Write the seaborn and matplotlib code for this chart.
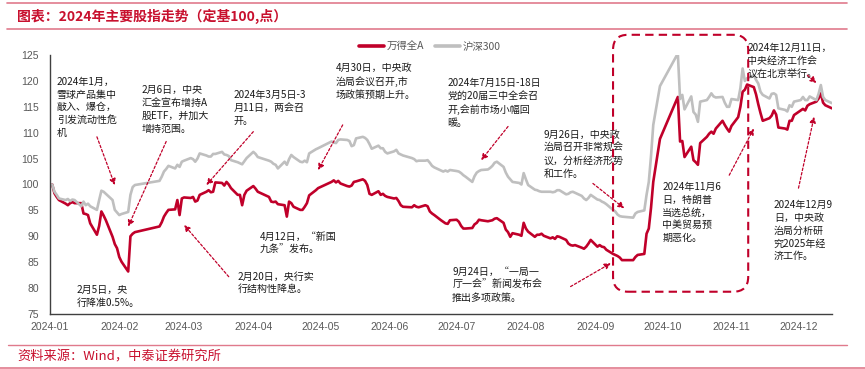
import matplotlib
matplotlib.use("Agg")
import matplotlib.pyplot as plt
import matplotlib.dates as mdates
import matplotlib.transforms as mtransforms
from matplotlib.patches import FancyBboxPatch
from matplotlib.lines import Line2D
import pandas as pd
import seaborn as sns

# ---------------- data ----------------
dates = [
    "2024-01-02", "2024-01-03", "2024-01-04", "2024-01-05", "2024-01-08", "2024-01-09", "2024-01-10",
    "2024-01-11", "2024-01-12", "2024-01-15", "2024-01-16", "2024-01-17", "2024-01-18", "2024-01-19",
    "2024-01-22", "2024-01-23", "2024-01-24", "2024-01-25", "2024-01-26", "2024-01-29", "2024-01-30",
    "2024-01-31", "2024-02-01", "2024-02-02", "2024-02-05", "2024-02-06", "2024-02-07", "2024-02-08",
    "2024-02-19", "2024-02-20", "2024-02-21", "2024-02-22", "2024-02-23", "2024-02-26", "2024-02-27",
    "2024-02-28", "2024-02-29", "2024-03-01", "2024-03-04", "2024-03-05", "2024-03-06", "2024-03-07",
    "2024-03-08", "2024-03-11", "2024-03-12", "2024-03-13", "2024-03-14", "2024-03-15", "2024-03-18",
    "2024-03-19", "2024-03-20", "2024-03-21", "2024-03-22", "2024-03-25", "2024-03-26", "2024-03-27",
    "2024-03-28", "2024-03-29", "2024-04-01", "2024-04-02", "2024-04-03", "2024-04-08", "2024-04-09",
    "2024-04-10", "2024-04-11", "2024-04-12", "2024-04-15", "2024-04-16", "2024-04-17", "2024-04-18",
    "2024-04-19", "2024-04-22", "2024-04-23", "2024-04-24", "2024-04-25", "2024-04-26", "2024-04-29",
    "2024-04-30", "2024-05-06", "2024-05-07", "2024-05-08", "2024-05-09", "2024-05-10", "2024-05-13",
    "2024-05-14", "2024-05-15", "2024-05-16", "2024-05-17", "2024-05-20", "2024-05-21", "2024-05-22",
    "2024-05-23", "2024-05-24", "2024-05-27", "2024-05-28", "2024-05-29", "2024-05-30", "2024-05-31",
    "2024-06-03", "2024-06-04", "2024-06-05", "2024-06-06", "2024-06-07", "2024-06-11", "2024-06-12",
    "2024-06-13", "2024-06-14", "2024-06-17", "2024-06-18", "2024-06-19", "2024-06-20", "2024-06-21",
    "2024-06-24", "2024-06-25", "2024-06-26", "2024-06-27", "2024-06-28", "2024-07-01", "2024-07-02",
    "2024-07-03", "2024-07-04", "2024-07-05", "2024-07-08", "2024-07-09", "2024-07-10", "2024-07-11",
    "2024-07-12", "2024-07-15", "2024-07-16", "2024-07-17", "2024-07-18", "2024-07-19", "2024-07-22",
    "2024-07-23", "2024-07-24", "2024-07-25", "2024-07-26", "2024-07-29", "2024-07-30", "2024-07-31",
    "2024-08-01", "2024-08-02", "2024-08-05", "2024-08-06", "2024-08-07", "2024-08-08", "2024-08-09",
    "2024-08-12", "2024-08-13", "2024-08-14", "2024-08-15", "2024-08-16", "2024-08-19", "2024-08-20",
    "2024-08-21", "2024-08-22", "2024-08-23", "2024-08-26", "2024-08-27", "2024-08-28", "2024-08-29",
    "2024-08-30", "2024-09-02", "2024-09-03", "2024-09-04", "2024-09-05", "2024-09-06", "2024-09-09",
    "2024-09-10", "2024-09-11", "2024-09-12", "2024-09-13", "2024-09-18", "2024-09-19", "2024-09-20",
    "2024-09-23", "2024-09-24", "2024-09-25", "2024-09-26", "2024-09-27", "2024-09-30", "2024-10-08",
    "2024-10-09", "2024-10-10", "2024-10-11", "2024-10-14", "2024-10-15", "2024-10-16", "2024-10-17",
    "2024-10-18", "2024-10-21", "2024-10-22", "2024-10-23", "2024-10-24", "2024-10-25", "2024-10-28",
    "2024-10-29", "2024-10-30", "2024-10-31", "2024-11-01", "2024-11-04", "2024-11-05", "2024-11-06",
    "2024-11-07", "2024-11-08", "2024-11-11", "2024-11-12", "2024-11-13", "2024-11-14", "2024-11-15",
    "2024-11-18", "2024-11-19", "2024-11-20", "2024-11-21", "2024-11-22", "2024-11-25", "2024-11-26",
    "2024-11-27", "2024-11-28", "2024-11-29", "2024-12-02", "2024-12-03", "2024-12-04", "2024-12-05",
    "2024-12-06", "2024-12-09", "2024-12-10", "2024-12-11", "2024-12-12", "2024-12-13", "2024-12-16",
]

wind_a = [
    100.0, 98.3, 97.6, 97.0, 96.3, 96.0, 96.4,
    96.6, 96.4, 96.4, 94.4, 94.3, 94.1, 92.5,
    90.3, 92.0, 94.8, 94.0, 93.1, 89.9, 88.5,
    87.7, 86.0, 85.1, 83.2, 90.0, 90.5, 90.8,
    91.9, 92.7, 93.8, 94.5, 95.1, 95.2, 97.0,
    94.1, 97.3, 97.5, 97.4, 97.6, 96.7, 96.9,
    98.0, 98.6, 98.9, 98.5, 98.6, 100.4, 100.3,
    99.8, 100.5, 100.0, 99.3, 98.0, 98.0, 96.0,
    98.0, 98.8, 99.7, 99.2, 98.6, 97.6, 96.7,
    96.6, 96.7, 96.2, 96.0, 93.8, 96.7, 96.4,
    95.7, 95.1, 95.1, 95.7, 96.4, 97.9, 98.9,
    99.3, 100.5, 100.8, 100.4, 100.7, 100.2, 99.7,
    99.6, 99.8, 100.5, 100.6, 101.0, 100.7, 99.9,
    98.2, 98.0, 98.7, 98.0, 98.2, 97.8, 97.6,
    97.3, 97.4, 96.8, 96.0, 95.7, 95.6, 96.0,
    95.7, 95.6, 96.0, 95.8, 94.8, 94.4, 94.1,
    93.1, 92.8, 92.5, 92.4, 93.1, 93.2, 92.8,
    92.0, 91.5, 91.5, 91.6, 92.3, 92.6, 93.2,
    93.1, 92.9, 93.0, 93.1, 93.4, 93.5, 92.6,
    91.3, 90.8, 89.9, 90.6, 90.3, 90.1, 92.6,
    91.5, 90.9, 89.9, 90.3, 90.3, 90.5, 90.1,
    89.6, 89.8, 89.5, 90.0, 89.9, 89.3, 88.6,
    88.3, 88.2, 88.3, 87.8, 87.6, 88.0, 88.6,
    89.3, 88.0, 88.3, 88.0, 87.9, 87.4, 86.6,
    86.4, 86.2, 85.9, 85.4, 85.4, 86.0, 86.4,
    86.6, 90.5, 91.5, 95.5, 100.5, 108.8, 116.9,
    108.3, 108.4, 105.3, 107.3, 104.7, 104.3, 103.8,
    108.0, 109.2, 109.8, 110.2, 109.8, 110.8, 112.3,
    111.5, 110.8, 110.2, 111.3, 113.0, 115.0, 117.9,
    118.3, 119.3, 118.8, 117.4, 115.5, 113.8, 112.3,
    112.8, 113.3, 114.3, 113.5, 111.0, 110.8, 110.6,
    112.3, 112.3, 113.4, 114.3, 114.6, 114.3, 115.2,
    115.5, 116.0, 116.6, 117.6, 115.8, 115.3, 114.7,
]

hs300 = [
    100.0, 98.6, 98.0, 97.3, 97.0, 97.2, 96.8,
    97.1, 97.0, 95.8, 96.7, 96.0, 96.3, 95.8,
    95.1, 97.0, 98.8, 98.6, 98.2, 97.0, 95.1,
    94.6, 94.1, 94.3, 94.7, 98.0, 99.5, 99.9,
    100.7, 101.5, 102.5, 103.0, 103.6, 103.1, 103.8,
    103.4, 104.4, 104.6, 105.1, 104.9, 104.4, 105.0,
    106.0, 105.6, 105.4, 105.4, 105.9, 105.9, 106.3,
    105.8, 105.7, 105.5, 104.7, 104.3, 104.1, 103.9,
    104.5, 105.1, 106.3, 105.9, 105.3, 104.6, 104.4,
    104.0, 103.8, 103.1, 104.4, 103.8, 104.9, 105.7,
    105.3, 104.4, 104.3, 104.6, 104.3, 106.0, 106.8,
    107.0, 108.3, 108.1, 108.0, 108.6, 108.7, 108.6,
    108.4, 107.4, 107.6, 108.9, 109.2, 109.0, 108.6,
    107.8, 106.9, 107.5, 107.0, 107.0, 106.3, 106.0,
    106.4, 106.7, 106.0, 105.8, 105.6, 105.1, 104.9,
    104.5, 104.6, 104.6, 104.7, 104.2, 103.6, 103.3,
    102.7, 102.5, 102.7, 102.5, 102.8, 102.6, 102.5,
    102.2, 101.8, 101.5, 100.5, 101.6, 102.3, 102.6,
    102.8, 102.9, 103.2, 103.6, 104.2, 104.4, 103.4,
    102.3, 101.5, 101.0, 100.5, 100.3, 100.0, 102.2,
    101.0, 99.9, 99.0, 98.9, 98.7, 98.6, 98.6,
    98.6, 98.5, 98.6, 98.9, 98.9, 98.1, 98.2,
    98.5, 98.6, 98.4, 97.8, 97.3, 97.0, 97.4,
    98.0, 97.1, 97.0, 96.7, 96.5, 96.2, 95.1,
    94.8, 94.2, 93.9, 93.8, 93.6, 94.4, 94.7,
    95.0, 98.0, 100.5, 105.5, 111.5, 119.0, 125.3,
    116.5, 117.3, 114.5, 117.0, 114.0, 113.5, 112.1,
    116.0, 116.3, 116.9, 117.6, 117.0, 116.8, 116.9,
    115.8, 115.0, 115.0, 116.5, 116.3, 118.6, 122.4,
    120.0, 120.5, 121.1, 120.2, 119.5, 117.9, 117.3,
    116.6, 117.5, 117.6, 117.3, 114.7, 114.4, 114.1,
    115.3, 115.0, 116.0, 116.3, 116.9, 116.3, 116.3,
    117.0, 116.3, 117.5, 119.2, 116.9, 116.3, 115.7,
]

series_names = ["万得全A", "沪深300"]
y_ticks = [75, 80, 85, 90, 95, 100, 105, 110, 115, 120, 125]

title_text = "图表：2024年主要股指走势（定基100,点）"
source_text = "资料来源：Wind，中泰证券研究所"

notes = [
    "2024年1月，\n雪球产品集中\n敲入、爆仓，\n引发流动性危\n机",
    "2月6日，中央\n汇金宣布增持A\n股ETF，并加大\n增持范围。",
    "2024年3月5日-3\n月11日，两会召\n开。",
    "4月30日，中央政\n治局会议召开,市\n场政策预期上升。",
    "2024年7月15日-18日\n党的20届三中全会召\n开,会前市场小幅回\n暖。",
    "9月26日，中央政\n治局召开非常规会\n议，分析经济形势\n和工作。",
    "2024年12月11日，\n中央经济工作会\n议在北京举行。",
    "2024年11月6\n日，特朗普\n当选总统，\n中美贸易预\n期恶化。",
    "2024年12月9\n日，中央政\n治局分析研\n究2025年经\n济工作。",
    "4月12日，“新国\n九条”发布。",
    "2月20日，央行实\n行结构性降息。",
    "2月5日，央\n行降准0.5%。",
    "9月24日，“一局一\n厅一会”新闻发布会\n推出多项政策。",
]
note_pos = [
    ("2024-01-04", 120.8), ("2024-02-11", 119.2), ("2024-03-23", 118.2),
    ("2024-05-08", 123.4), ("2024-06-27", 120.5), ("2024-08-09", 110.5),
    ("2024-11-08", 127.3), ("2024-10-01", 100.5), ("2024-11-20", 97.0),
    ("2024-04-04", 90.9), ("2024-03-25", 83.2), ("2024-01-13", 80.6),
    ("2024-06-29", 84.1),
]
arrows = [  # (tail, tip)
    (("2024-01-22", 109.2), ("2024-01-30", 99.9)),
    (("2024-02-22", 108.3), ("2024-02-05", 91.9)),
    (("2024-04-01", 110.2), ("2024-03-11", 99.9)),
    (("2024-05-11", 111.5), ("2024-04-30", 102.8)),
    (("2024-07-24", 111.2), ("2024-07-12", 104.7)),
    (("2024-08-31", 100.2), ("2024-09-14", 95.4)),
    (("2024-12-05", 121.1), ("2024-12-09", 119.6)),
    (("2024-10-31", 101.8), ("2024-11-11", 110.8)),
    (("2024-12-01", 99.3), ("2024-12-08", 113.1)),
    (("2024-03-21", 82.2), ("2024-03-01", 92.2)),
    (("2024-08-21", 80.3), ("2024-09-08", 84.8)),
]
box_span = (("2024-09-09", 128.9), ("2024-11-08 12:00", 79.3))

# ---------------- styling ----------------
sns.set_theme(style="white")
plt.rcParams["font.family"] = ["Noto Sans CJK SC", "DejaVu Sans"]
plt.rcParams["axes.unicode_minus"] = False

RED = "#C0002A"
GRAY = "#BFBFBF"
ACCENT = "#C8102E"
RULE = "#E07A8C"

df = pd.DataFrame({"date": pd.to_datetime(dates), series_names[0]: wind_a, series_names[1]: hs300})
long = df.melt(id_vars="date", var_name="指数", value_name="value")

fig = plt.figure(figsize=(8.65, 3.69), dpi=100)
ax = fig.add_axes([50 / 865, 55 / 369, 782 / 865, 259 / 369])

sns.lineplot(data=long, x="date", y="value", hue="指数", hue_order=series_names,
             palette=[RED, GRAY], linewidth=1.9, ax=ax, legend=False)

D = lambda s: mdates.date2num(pd.Timestamp(s))

ax.set_xlim(D("2024-01-01"), D("2024-12-16"))
ax.set_ylim(75, 125)
ax.set_yticks(y_ticks)
ax.xaxis.set_major_locator(mdates.MonthLocator())
ax.xaxis.set_major_formatter(mdates.DateFormatter("%Y-%m"))
ax.set_xlabel("")
ax.set_ylabel("")
for s in ["top", "right"]:
    ax.spines[s].set_visible(False)
for s in ["left", "bottom"]:
    ax.spines[s].set_color("#404040")
    ax.spines[s].set_linewidth(1.0)
ax.tick_params(axis="both", direction="in", length=3, width=0.9, color="#404040",
               labelcolor="#595959", labelsize=7.5)
ax.tick_params(axis="y", pad=8)
ax.tick_params(axis="x", pad=6)
for lab in ax.get_xticklabels() + ax.get_yticklabels():
    lab.set_fontfamily(["Liberation Sans", "DejaVu Sans"])

# legend
handles = [Line2D([0], [0], color=RED, lw=2.6), Line2D([0], [0], color=GRAY, lw=2.6)]
leg = ax.legend(handles, series_names, loc="center", bbox_to_anchor=(430 / 865, 1 - 46.7 / 369),
                bbox_transform=fig.transFigure, ncol=2, frameon=False, fontsize=7.5,
                handlelength=2.4, columnspacing=1.0, handletextpad=0.3, labelcolor="#595959")

# annotations
for txt, (d, v) in zip(notes, note_pos):
    ax.text(D(d), v, txt, fontsize=7.2, color="#1a1a1a", ha="left", va="top",
            linespacing=1.35, clip_on=False)

for (t, tv), (h, hv) in arrows:
    ax.annotate("", xy=(D(h), hv), xytext=(D(t), tv), annotation_clip=False,
                arrowprops=dict(arrowstyle="-|>", color=RED, lw=0.9, linestyle=(0, (2.0, 1.6)),
                                mutation_scale=9, shrinkA=0, shrinkB=0))

# dashed rounded box around the September-November rally
fig.canvas.draw()
(b0d, b0v), (b1d, b1v) = box_span
x0, y0 = ax.transData.transform((D(b0d), b1v))
x1, y1 = ax.transData.transform((D(b1d), b0v))
box = FancyBboxPatch((x0, y0), x1 - x0, y1 - y0, boxstyle="round,pad=0,rounding_size=15",
                     transform=mtransforms.IdentityTransform(), fill=False, edgecolor=RED,
                     linewidth=1.5, linestyle=(0, (4, 2.5)), clip_on=False)
fig.add_artist(box)

# header / footer rules and texts
def hrule(x0, x1, ypx, lw):
    fig.add_artist(Line2D([x0 / 865, x1 / 865], [1 - ypx / 369] * 2, color=RULE, lw=lw,
                          transform=fig.transFigure))

hrule(7, 847, 3, 1.2)
hrule(7, 847, 28.5, 1.2)
hrule(8, 847, 344.5, 1.0)
hrule(0, 865, 368, 1.2)

fig.text(17 / 865, 1 - 16 / 369, title_text, color=ACCENT, fontsize=10, fontweight="bold",
         fontstyle="italic", ha="left", va="center")
fig.text(17 / 865, 1 - 357 / 369, source_text, color=ACCENT, fontsize=9.5,
         fontstyle="italic", ha="left", va="center")

fig.savefig("out.png", dpi=100)
